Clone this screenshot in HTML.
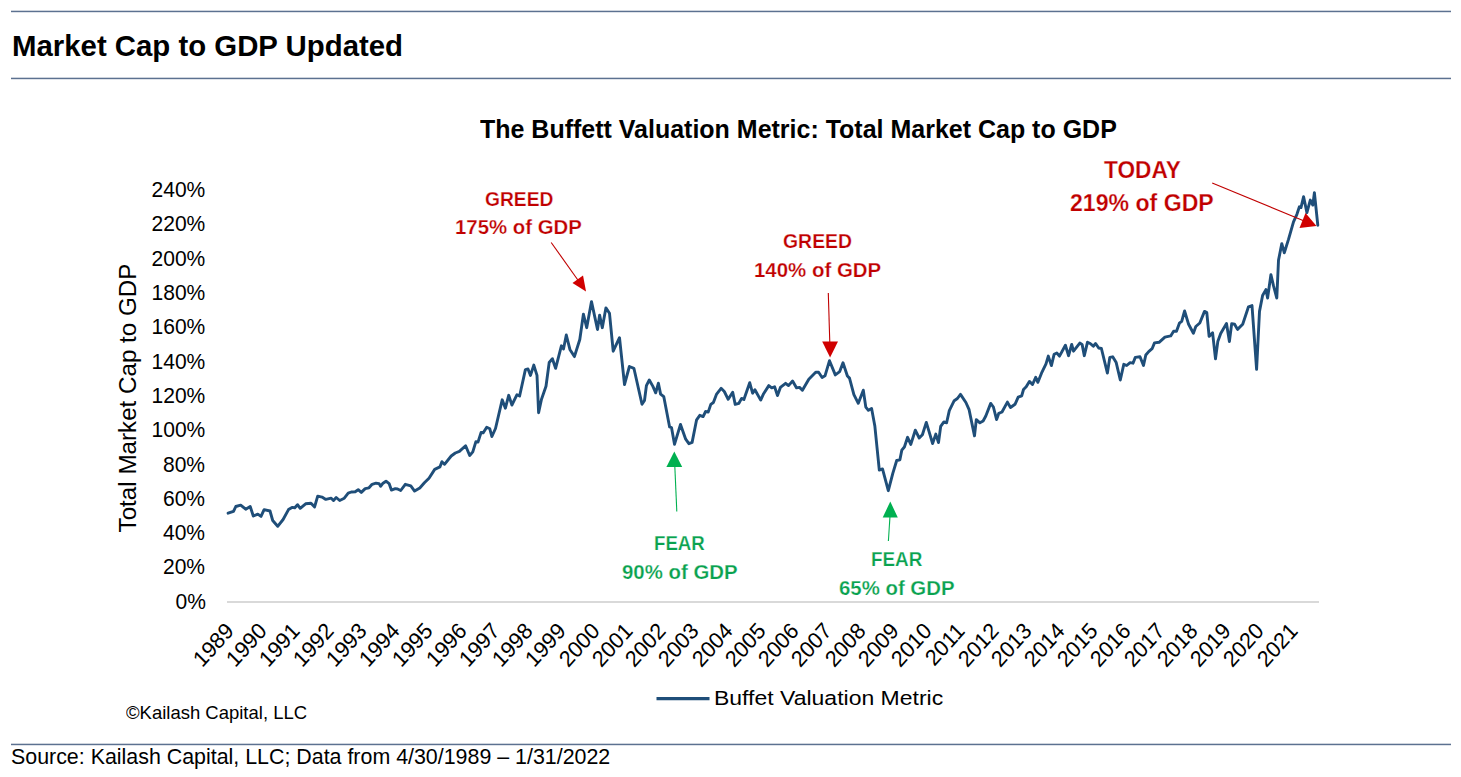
<!DOCTYPE html>
<html><head><meta charset="utf-8"><style>
html,body{margin:0;padding:0;background:#fff;width:1461px;height:777px;overflow:hidden}
.t{position:absolute;font-family:'Liberation Sans', sans-serif;line-height:1;white-space:nowrap;transform-origin:0 0;color:#000}
.yl{right:1255.6px;text-align:right;transform-origin:100% 0;transform:scaleX(0.955)}
.xl{transform-origin:0 0}
.thin{-webkit-text-stroke:0.25px #fff}
</style></head><body>
<svg width="1461" height="777" style="position:absolute;left:0;top:0">
<rect x="11" y="10.7" width="1440" height="1.5" fill="#5c7190"/>
<rect x="11" y="77.7" width="1440" height="1.5" fill="#5c7190"/>
<rect x="11" y="743.7" width="1440" height="1.5" fill="#5c7190"/>
<line x1="227" y1="602" x2="1319" y2="602" stroke="#d9d9d9" stroke-width="2"/>
<polyline points="228.1,513.2 233.5,511.4 235.8,506.5 240.7,505.1 245.7,509.2 250.2,506.5 253.3,516 257.8,514.1 261,516.4 264.1,509.6 270,511 272.7,520.5 277.7,526.3 283.1,519.5 288.5,509.6 292,507.4 294.8,507.8 297.5,504.7 300.2,508.3 305.6,503.8 311,503.3 314.6,506.9 317.7,496.1 322,497.1 325.8,499.4 331.2,498.2 333.5,500.5 336.2,497.5 339.7,500.5 344.3,498.2 348.2,493.2 351.3,492 355.2,491.7 358.2,489.7 361.3,492.4 365.2,488.6 369,487.8 372.1,484.3 376,483.2 379.1,483.6 380.6,486.3 383,483.2 386,481.2 389.1,483.6 391.4,490.1 395.3,488.6 397.6,489 400.7,490.5 405.3,484.3 410.8,485.9 414.6,491.1 419.8,488 424.4,482.8 429,478.2 434.7,469.4 439.9,466.9 441.9,461.7 444.5,464.3 451.2,456 455.3,453 459.4,451.4 465.6,445.7 469.7,455.5 472.8,451.9 475.9,441.6 478,442.1 481.1,432.4 483.1,432.9 486.7,427.2 489.8,428.8 491.9,436.5 495.5,428.5 502.2,399.8 505.4,408.2 508.7,395.3 511.9,405 517,394.7 519.6,396 525.4,369.6 528,369 530.5,375.4 533.8,365.1 537,375.4 538.6,412.7 541.5,399.2 546,386.3 549.2,362.5 552.4,358.7 555.6,368.3 561.4,345.8 563.5,349 566.3,335 569.9,349.4 574.4,356.6 579.8,339.5 583.4,314.2 586.7,327.7 591.5,301.6 597.5,329.5 599.6,315.1 602.3,327.7 605.9,307.9 609.5,313.3 613.2,351.2 619.5,337.7 624.5,384.5 629.4,366.5 633.9,368.3 642,404.3 644.5,400.5 646.4,385.7 649.3,380 652.9,386.4 655.7,392.8 658.4,383.2 660.6,394.1 663.8,396.7 669.6,426.9 671.5,427.6 674.5,444.3 680.5,424.4 685.7,439.2 688.9,443.7 692.1,442.4 696.6,419.8 699.8,415.3 703.1,416.6 705.6,411.5 708.2,412.1 710.8,404.4 713.4,402.5 716.6,394.1 721.1,388.3 724.3,391.5 728.2,399.3 732.7,392.2 735.2,404.4 738.9,403.3 741.6,398.4 743.9,399.5 749.7,382.7 752.6,393.2 754.9,389.7 760.7,400.1 763.6,393.7 768.8,385.6 771.7,387.9 774.6,386.8 777.5,395.5 780.4,387.4 785.6,383.3 788.5,385.6 792.6,381 796.6,387.9 799.5,387.4 802.4,390.3 808.8,379.2 815.7,372.3 818.6,372.3 822.1,377.5 825,375.8 829.5,360.7 835.3,374.9 839.7,371.6 843,362.8 847.4,376 849.5,378.1 853.9,394.6 858.3,403.3 863.3,390.2 865.8,407.1 868.4,410.3 871.6,408.4 874.8,425.7 879.3,470.1 882.5,468.9 888.3,490.7 892.8,473.4 896.7,460.5 899.9,459.8 901.8,450.2 904.4,447 907.6,437.3 910.8,444.4 915.3,430.2 919.2,438 922.4,434.7 926.3,422.4 929,431.4 932.6,443.5 935.8,434.1 938.5,442.6 940.7,426.4 943.9,421.9 946.6,422.8 949.3,410.6 954.2,400.7 957.4,398.5 960.5,394.4 965.9,402.5 969.1,409.7 974.5,435.9 976.3,419.6 979.9,422.8 983.1,421 985.8,416 990.7,403.4 993.4,407 996.6,419.6 998.8,413.3 1002,412 1007.4,402.1 1010.5,407.5 1015,404.3 1018.2,397.1 1021.7,395.8 1023.5,389.5 1026.2,386.8 1029.4,381.4 1032.5,384.5 1035.7,377.3 1037.9,382.3 1041.5,373.2 1046,363.8 1048.3,356.1 1051.4,365.6 1054.1,354.3 1056.8,353 1059.5,356.1 1065.4,345.3 1068.6,355.7 1071.7,344.4 1073.5,351.2 1079.8,343.1 1082.1,344.4 1084.3,355.7 1087.5,342.2 1090.2,343.5 1093.3,346.2 1095.6,343.5 1098.7,348 1101.4,348.5 1107.4,373.1 1109.8,357.4 1112.7,356.8 1116.2,362.6 1120.3,380 1123.8,364.3 1126.7,365.5 1130.1,362.6 1133,363.2 1135.3,357.4 1140,356.8 1143.5,365.5 1145.8,355 1148.7,351.6 1152.1,348.7 1154.5,342.9 1159.1,342.3 1164.9,337.1 1170.7,335.9 1173.6,331.3 1176.5,331.3 1179.4,323.2 1181.7,321.4 1184.6,311 1188.6,324.3 1193.4,333.2 1195.8,326.5 1199.8,323 1204.5,311.4 1206.8,312.6 1209.1,336.4 1212.6,332.9 1215.5,358.9 1217.8,341.6 1220.7,333.5 1226.5,323.6 1229.4,341.6 1231.7,323.6 1234.6,324.2 1237.5,329.4 1242.7,324.2 1248.5,306.8 1252,305.6 1256.6,369.4 1259.5,311.4 1262.6,295.5 1265.9,289.6 1267.6,298 1270.9,274.6 1273.4,285.4 1276.8,298 1278.5,260.3 1281.8,243.6 1284.3,252.8 1288.5,239.4 1293.5,221.8 1296.9,214.3 1299.4,206.8 1301,207.6 1303.6,196.7 1306.9,212.6 1310.3,200.1 1312.8,205.1 1314.4,192.6 1317.8,225.2" fill="none" stroke="#1f4e79" stroke-width="2.9" stroke-linejoin="round" stroke-linecap="round"/>
<line x1="656.5" y1="698.6" x2="709.5" y2="698.6" stroke="#1f4e79" stroke-width="3.2"/>
<!-- arrows -->
<line x1="551.2" y1="242.5" x2="580" y2="283" stroke="#C00000" stroke-width="1.1"/>
<polygon points="586,291.5 572.5,283 583,275.5" fill="#D00000"/>
<line x1="828.3" y1="293" x2="829.8" y2="343" stroke="#C00000" stroke-width="1.1"/>
<polygon points="830.1,357.5 822.2,341.6 838,341.6" fill="#D00000"/>
<line x1="1212.2" y1="183" x2="1303" y2="220.5" stroke="#C00000" stroke-width="1.1"/>
<polygon points="1316.5,226 1299.5,228 1305.5,213" fill="#D00000"/>
<line x1="676.8" y1="511.4" x2="674.8" y2="466" stroke="#00B050" stroke-width="1.1"/>
<polygon points="674.3,451.5 666.4,467 682.2,467" fill="#00B050"/>
<line x1="888.4" y1="541" x2="890" y2="516" stroke="#00B050" stroke-width="1.1"/>
<polygon points="890.3,501.5 882.7,517.5 897.8,517.5" fill="#00B050"/>
</svg>
<div class="t" style="left:11.94px;top:30.80px;font-size:30.24px;font-weight:bold;color:#000;transform:scaleX(0.9712);">Market Cap to GDP Updated</div>
<div class="t" style="left:479.65px;top:115.71px;font-size:26.13px;font-weight:bold;color:#000;transform:scaleX(0.9565);">The Buffett Valuation Metric: Total Market Cap to GDP</div>
<div class="t thin" style="left:484.83px;top:189.78px;font-size:19.72px;font-weight:bold;color:#C00000;transform:scaleX(0.9762);">GREED</div>
<div class="t thin" style="left:455.48px;top:218.38px;font-size:19.72px;font-weight:bold;color:#C00000;transform:scaleX(1.0338);">175% of GDP</div>
<div class="t thin" style="left:782.62px;top:230.55px;font-size:20.29px;font-weight:bold;color:#C00000;transform:scaleX(0.9574);">GREED</div>
<div class="t thin" style="left:753.57px;top:261.08px;font-size:19.72px;font-weight:bold;color:#C00000;transform:scaleX(1.0370);">140% of GDP</div>
<div class="t thin" style="left:1103.67px;top:158.27px;font-size:24.78px;font-weight:bold;color:#C00000;transform:scaleX(0.9148);">TODAY</div>
<div class="t thin" style="left:1070.31px;top:190.57px;font-size:24.78px;font-weight:bold;color:#C00000;transform:scaleX(0.9325);">219% of GDP</div>
<div class="t thin" style="left:654.39px;top:532.71px;font-size:20.04px;font-weight:bold;color:#0AA24F;transform:scaleX(0.9317);">FEAR</div>
<div class="t thin" style="left:621.99px;top:561.78px;font-size:20.61px;font-weight:bold;color:#0AA24F;transform:scaleX(0.9893);">90% of GDP</div>
<div class="t thin" style="left:871.19px;top:550.08px;font-size:19.72px;font-weight:bold;color:#0AA24F;transform:scaleX(0.9558);">FEAR</div>
<div class="t thin" style="left:839.19px;top:578.58px;font-size:19.72px;font-weight:bold;color:#0AA24F;transform:scaleX(1.0343);">65% of GDP</div>
<div class="t" style="left:713.96px;top:688.21px;font-size:20.91px;font-weight:normal;color:#000;transform:scaleX(1.0998);">Buffet Valuation Metric</div>
<div class="t" style="left:125.73px;top:704.93px;font-size:17.71px;font-weight:normal;color:#000;transform:scaleX(1.0448);">©Kailash Capital, LLC</div>
<div class="t" style="left:10.93px;top:746.36px;font-size:21.20px;font-weight:normal;color:#000;transform:scaleX(1.0094);">Source: Kailash Capital, LLC; Data from 4/30/1989 – 1/31/2022</div>
<div class="t yl" style="top:590.78px;font-size:22.03px">0%</div>
<div class="t yl" style="top:556.47px;font-size:22.03px">20%</div>
<div class="t yl" style="top:522.16px;font-size:22.03px">40%</div>
<div class="t yl" style="top:487.85px;font-size:22.03px">60%</div>
<div class="t yl" style="top:453.54px;font-size:22.03px">80%</div>
<div class="t yl" style="top:419.23px;font-size:22.03px">100%</div>
<div class="t yl" style="top:384.92px;font-size:22.03px">120%</div>
<div class="t yl" style="top:350.61px;font-size:22.03px">140%</div>
<div class="t yl" style="top:316.30px;font-size:22.03px">160%</div>
<div class="t yl" style="top:281.99px;font-size:22.03px">180%</div>
<div class="t yl" style="top:247.68px;font-size:22.03px">200%</div>
<div class="t yl" style="top:213.37px;font-size:22.03px">220%</div>
<div class="t yl" style="top:179.06px;font-size:22.03px">240%</div>
<div class="t" id="ytitle" style="font-size:24.2px;left:127.5px;top:398px;transform:translate(-50%,-50%) rotate(-90deg);transform-origin:50% 50%">Total Market Cap to GDP</div>
<div class="t xl" style="font-size:22px;left:230.00px;top:627.30px;transform:matrix(0.66913,-0.74314,0.70711,0.70711,0,0) translate(-100%,-50%)">1989</div>
<div class="t xl" style="font-size:22px;left:263.24px;top:627.30px;transform:matrix(0.66913,-0.74314,0.70711,0.70711,0,0) translate(-100%,-50%)">1990</div>
<div class="t xl" style="font-size:22px;left:296.48px;top:627.30px;transform:matrix(0.66913,-0.74314,0.70711,0.70711,0,0) translate(-100%,-50%)">1991</div>
<div class="t xl" style="font-size:22px;left:329.72px;top:627.30px;transform:matrix(0.66913,-0.74314,0.70711,0.70711,0,0) translate(-100%,-50%)">1992</div>
<div class="t xl" style="font-size:22px;left:362.96px;top:627.30px;transform:matrix(0.66913,-0.74314,0.70711,0.70711,0,0) translate(-100%,-50%)">1993</div>
<div class="t xl" style="font-size:22px;left:396.20px;top:627.30px;transform:matrix(0.66913,-0.74314,0.70711,0.70711,0,0) translate(-100%,-50%)">1994</div>
<div class="t xl" style="font-size:22px;left:429.44px;top:627.30px;transform:matrix(0.66913,-0.74314,0.70711,0.70711,0,0) translate(-100%,-50%)">1995</div>
<div class="t xl" style="font-size:22px;left:462.68px;top:627.30px;transform:matrix(0.66913,-0.74314,0.70711,0.70711,0,0) translate(-100%,-50%)">1996</div>
<div class="t xl" style="font-size:22px;left:495.92px;top:627.30px;transform:matrix(0.66913,-0.74314,0.70711,0.70711,0,0) translate(-100%,-50%)">1997</div>
<div class="t xl" style="font-size:22px;left:529.16px;top:627.30px;transform:matrix(0.66913,-0.74314,0.70711,0.70711,0,0) translate(-100%,-50%)">1998</div>
<div class="t xl" style="font-size:22px;left:562.40px;top:627.30px;transform:matrix(0.66913,-0.74314,0.70711,0.70711,0,0) translate(-100%,-50%)">1999</div>
<div class="t xl" style="font-size:22px;left:595.64px;top:627.30px;transform:matrix(0.66913,-0.74314,0.70711,0.70711,0,0) translate(-100%,-50%)">2000</div>
<div class="t xl" style="font-size:22px;left:628.88px;top:627.30px;transform:matrix(0.66913,-0.74314,0.70711,0.70711,0,0) translate(-100%,-50%)">2001</div>
<div class="t xl" style="font-size:22px;left:662.12px;top:627.30px;transform:matrix(0.66913,-0.74314,0.70711,0.70711,0,0) translate(-100%,-50%)">2002</div>
<div class="t xl" style="font-size:22px;left:695.36px;top:627.30px;transform:matrix(0.66913,-0.74314,0.70711,0.70711,0,0) translate(-100%,-50%)">2003</div>
<div class="t xl" style="font-size:22px;left:728.60px;top:627.30px;transform:matrix(0.66913,-0.74314,0.70711,0.70711,0,0) translate(-100%,-50%)">2004</div>
<div class="t xl" style="font-size:22px;left:761.84px;top:627.30px;transform:matrix(0.66913,-0.74314,0.70711,0.70711,0,0) translate(-100%,-50%)">2005</div>
<div class="t xl" style="font-size:22px;left:795.08px;top:627.30px;transform:matrix(0.66913,-0.74314,0.70711,0.70711,0,0) translate(-100%,-50%)">2006</div>
<div class="t xl" style="font-size:22px;left:828.32px;top:627.30px;transform:matrix(0.66913,-0.74314,0.70711,0.70711,0,0) translate(-100%,-50%)">2007</div>
<div class="t xl" style="font-size:22px;left:861.56px;top:627.30px;transform:matrix(0.66913,-0.74314,0.70711,0.70711,0,0) translate(-100%,-50%)">2008</div>
<div class="t xl" style="font-size:22px;left:894.80px;top:627.30px;transform:matrix(0.66913,-0.74314,0.70711,0.70711,0,0) translate(-100%,-50%)">2009</div>
<div class="t xl" style="font-size:22px;left:928.04px;top:627.30px;transform:matrix(0.66913,-0.74314,0.70711,0.70711,0,0) translate(-100%,-50%)">2010</div>
<div class="t xl" style="font-size:22px;left:961.28px;top:627.30px;transform:matrix(0.66913,-0.74314,0.70711,0.70711,0,0) translate(-100%,-50%)">2011</div>
<div class="t xl" style="font-size:22px;left:994.52px;top:627.30px;transform:matrix(0.66913,-0.74314,0.70711,0.70711,0,0) translate(-100%,-50%)">2012</div>
<div class="t xl" style="font-size:22px;left:1027.76px;top:627.30px;transform:matrix(0.66913,-0.74314,0.70711,0.70711,0,0) translate(-100%,-50%)">2013</div>
<div class="t xl" style="font-size:22px;left:1061.00px;top:627.30px;transform:matrix(0.66913,-0.74314,0.70711,0.70711,0,0) translate(-100%,-50%)">2014</div>
<div class="t xl" style="font-size:22px;left:1094.24px;top:627.30px;transform:matrix(0.66913,-0.74314,0.70711,0.70711,0,0) translate(-100%,-50%)">2015</div>
<div class="t xl" style="font-size:22px;left:1127.48px;top:627.30px;transform:matrix(0.66913,-0.74314,0.70711,0.70711,0,0) translate(-100%,-50%)">2016</div>
<div class="t xl" style="font-size:22px;left:1160.72px;top:627.30px;transform:matrix(0.66913,-0.74314,0.70711,0.70711,0,0) translate(-100%,-50%)">2017</div>
<div class="t xl" style="font-size:22px;left:1193.96px;top:627.30px;transform:matrix(0.66913,-0.74314,0.70711,0.70711,0,0) translate(-100%,-50%)">2018</div>
<div class="t xl" style="font-size:22px;left:1227.20px;top:627.30px;transform:matrix(0.66913,-0.74314,0.70711,0.70711,0,0) translate(-100%,-50%)">2019</div>
<div class="t xl" style="font-size:22px;left:1260.44px;top:627.30px;transform:matrix(0.66913,-0.74314,0.70711,0.70711,0,0) translate(-100%,-50%)">2020</div>
<div class="t xl" style="font-size:22px;left:1293.68px;top:627.30px;transform:matrix(0.66913,-0.74314,0.70711,0.70711,0,0) translate(-100%,-50%)">2021</div>
</body></html>
